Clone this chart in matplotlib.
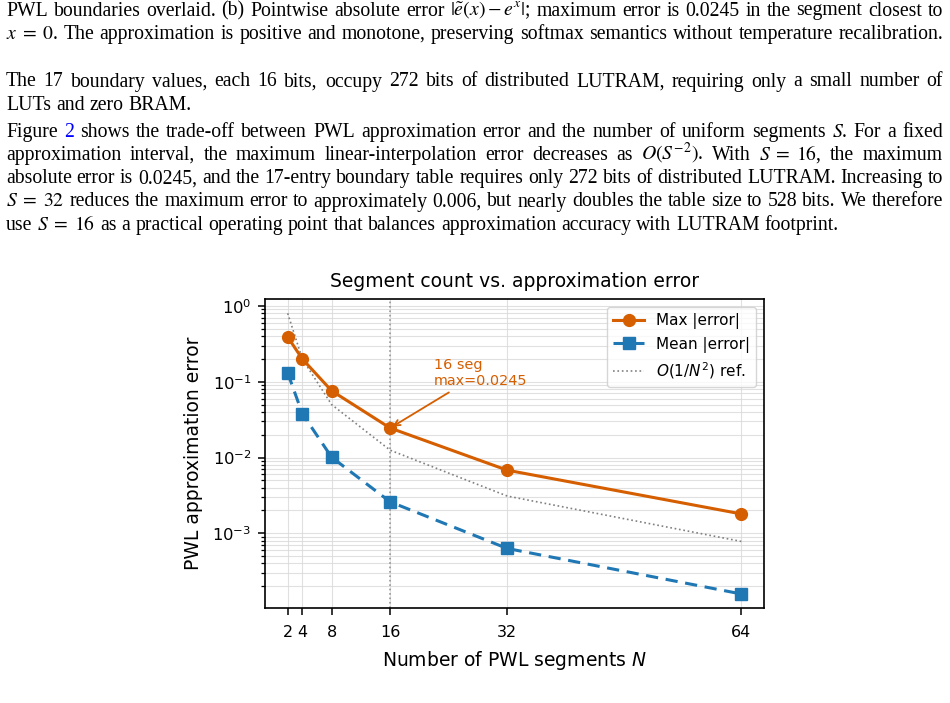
import matplotlib
matplotlib.use("Agg")
import matplotlib.pyplot as plt

# ---------------- data ----------------
segments = [2, 4, 8, 16, 32, 64]
max_err = [0.39, 0.20, 0.076, 0.0245, 0.0068, 0.0018]
mean_err = [0.131, 0.038, 0.0101, 0.0026, 0.00063, 0.000158]
ref_err = [0.80, 0.20, 0.050, 0.0125, 0.0031, 0.00078]
xtick_labels = ["2", "4", "8", "16", "32", "64"]

ORANGE = "#D55E00"
BLUE = "#1F77B4"
LINKBLUE = "#0000FF"

W, H = 950, 703
fig = plt.figure(figsize=(W / 100, H / 100), dpi=100)

# ---------------- page text ----------------
FS = 14.2
SERIF = "Liberation Serif"

lines = [
    (15.5, [("PWL", None), ("boundaries", None), ("overlaid.", None), ("(b)", None), ("Pointwise", None),
            ("absolute", None), ("error", None), (r"$|\tilde{e}(x)-e^{x}|$;", None), ("maximum", None),
            ("error", None), ("is", None), ("0.0245", None), ("in", None), ("the", None), ("segment", None),
            ("closest", None), ("to", None)], True),
    (38.7, [(r"$x\;=\;0$.", None), ("The", None), ("approximation", None), ("is", None), ("positive", None),
            ("and", None), ("monotone,", None), ("preserving", None), ("softmax", None), ("semantics", None),
            ("without", None), ("temperature", None), ("recalibration.", None)], True),
    (86.5, [(w, None) for w in "The 17 boundary values, each 16 bits, occupy 272 bits of distributed LUTRAM, requiring only a small number of".split()], True),
    (109.5, [(w, None) for w in "LUTs and zero BRAM.".split()], False),
    (136.7, [("Figure", None), ("2", LINKBLUE)] + [(w, None) for w in "shows the trade-off between PWL approximation error and the number of uniform".split()]
            + [("segments", None), (r"$S$.", None), ("For", None), ("a", None), ("fixed", None)], True),
    (159.7, [(w, None) for w in "approximation interval, the maximum linear-interpolation error decreases as".split()]
            + [(r"$O(S^{-2})$.", None), ("With", None), (r"$S\;=\;16$,", None), ("the", None), ("maximum", None)], True),
    (183.2, [(w, None) for w in "absolute error is 0.0245, and the 17-entry boundary table requires only 272 bits of distributed LUTRAM. Increasing to".split()], True),
    (206.5, [(r"$S\;=\;32$", None)] + [(w, None) for w in "reduces the maximum error to approximately 0.006, but nearly doubles the table size to 528 bits. We therefore".split()], True),
    (229.7, [("use", None), (r"$S\;=\;16$", None)] + [(w, None) for w in "as a practical operating point that balances approximation accuracy with LUTRAM footprint.".split()], False),
]

renderer = fig.canvas.get_renderer()
X0, X1 = 6.0, 943.0
space = 0.25 * FS * 100 / 72
for y_px, toks, justify in lines:
    objs = []
    widths = []
    for t, c in toks:
        o = fig.text(0, 1 - y_px / H, t, fontsize=FS, family=SERIF, math_fontfamily="stix",
                     color=c if c else "black", va="baseline", ha="left")
        bb = o.get_window_extent(renderer)
        objs.append(o)
        widths.append(bb.width)
    if justify and len(objs) > 1:
        gap = (X1 - X0 - sum(widths)) / (len(objs) - 1)
    else:
        gap = space
    x = X0
    for o, w in zip(objs, widths):
        o.set_x(x / W)
        x += w + gap

# ---------------- chart ----------------
ax = fig.add_axes([265 / W, (H - 608) / H, (764 - 265) / W, (608 - 299.3) / H])
ax.set_yscale("log")
ax.grid(True, which="both", color="#d9d9d9", lw=0.8, alpha=0.8)
ax.set_axisbelow(True)

ax.plot(segments, max_err, "-o", color=ORANGE, lw=2.2, ms=8.5, label="Max |error|", zorder=3)
ax.plot(segments, mean_err, "--s", color=BLUE, lw=2.2, ms=8.5, dashes=(4, 2.5), label="Mean |error|", zorder=3)
ax.plot(segments, ref_err, ":", color="gray", lw=1.2, label=r"$O(1/N^2)$ ref.", zorder=2)
ax.axvline(segments[3], color="gray", ls=":", lw=1.2, alpha=0.8, zorder=2)

ax.annotate("16 seg\nmax=%s" % max_err[3], xy=(segments[3], max_err[3]), xytext=(22, 0.09),
            textcoords="data", color=ORANGE, fontsize=10.4,
            arrowprops=dict(arrowstyle="->", color=ORANGE, lw=1.3))

ax.set_xticks(segments)
ax.set_xticklabels(xtick_labels)
ax.tick_params(which="major", length=5.2, width=1.1, pad=4.6)
ax.tick_params(which="minor", length=3.0, width=0.9)
ax.tick_params(axis="x", labelsize=11.5, pad=6.8)
ax.tick_params(axis="y", labelsize=11.8)
ax.set_xlabel(r"Number of PWL segments $N$", fontsize=13.5, labelpad=7)
ax.set_ylabel("PWL approximation error", fontsize=13.5, labelpad=7)
ax.set_title("Segment count vs. approximation error", fontsize=13.5, pad=9)
for s in ax.spines.values():
    s.set_linewidth(1.2)
ax.legend(loc="upper right", fontsize=11)

fig.savefig("out.png", dpi=100)
